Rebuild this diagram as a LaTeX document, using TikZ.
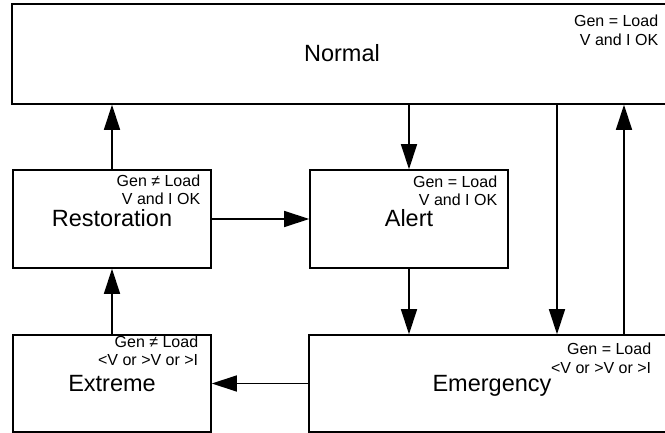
\documentclass[tikz,border=0pt]{standalone}
\usepackage{fontspec}
\setmainfont{Liberation Sans}
\usetikzlibrary{arrows.meta}

\begin{document}
\begin{tikzpicture}[x=1pt,y=-1pt,line width=1.6pt]
\useasboundingbox (0,0) rectangle (665,433);
\clip (0,0) rectangle (665,433);

% Draw the operating states of the power system
\tikzstyle{every node}=[draw,shape=rectangle,inner sep=0pt,text height=16pt,text depth=0pt,font=\fontsize{23.5}{28}\selectfont,anchor=center];
\foreach \name/\txt/\x/\y/\w/\h in {normal/Normal/342/54/660/100,
    restoration/Restoration/112/219/198/98, alert/Alert/409/219/198/98,
    extreme/Extreme/112/383.5/198/97, emergency/Emergency/492/383.5/366/97}
  \node[minimum width=\w pt,minimum height=\h pt] (\name) at (\x,\y) {\txt};

% Conditions of each state
\tikzstyle{every node}=[anchor=base east,inner sep=0pt,font=\fontsize{16}{19}\selectfont];
\foreach \x/\y/\txt [count=\idx] in {659/27/Gen = Load, 659/46/V and I OK,
    201/187/Gen ≠ Load, 201/205/V and I OK,
    498/188/Gen = Load, 498/206/V and I OK,
    199/347/Gen ≠ Load, 199/366/{<V or >V or >I},
    652/355/Gen = Load, 652/373/{<V or >V or >I}}
  \node (cond\idx) at (\x,\y) {\txt};

% Transitions between the states
\coordinate (down) at (557,0);
\coordinate (up) at (624,0);
\tikzstyle{every path}=[-{Triangle[length=25pt,width=16pt]}];
\draw (restoration) -- (restoration |- normal.south);
\draw (alert |- normal.south) -- (alert);
\draw (restoration) -- (alert);
\draw (alert) -- (alert |- emergency.north);
\draw (normal.south -| down) -- (emergency.north -| down);
\draw (emergency.north -| up) -- (normal.south -| up);
\draw (emergency) -- (extreme);
\draw (extreme) -- (restoration);

\end{tikzpicture}
\end{document}
